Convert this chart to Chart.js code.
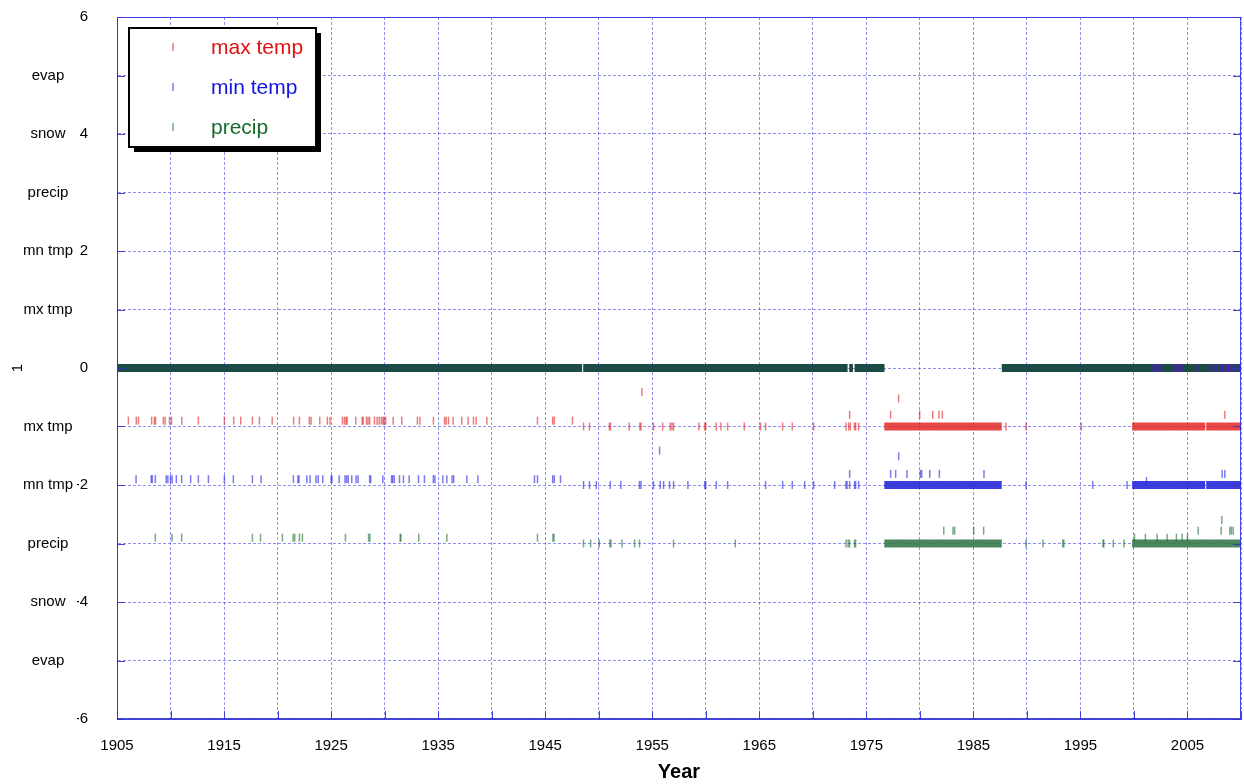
<!DOCTYPE html>
<html>
<head>
<meta charset="utf-8">
<script src="https://cdn.jsdelivr.net/npm/chart.js@4.4.0/dist/chart.umd.min.js"></script>
<style>
  html, body { margin: 0; padding: 0; background: #fff; }
  canvas { display: block; }
</style>
</head>
<body>
<canvas id="chart" width="1244" height="784"></canvas>
<script>
const FONT = '"Liberation Sans", Arial, Helvetica, sans-serif';
Chart.defaults.font.family = FONT;
Chart.defaults.color = '#000';

const xMin = 1905, xMax = 2010;
const rowValues = [6, 5, 4, 3, 2, 1, 0, -1, -2, -3, -4, -5, -6];
const rowNames = ['', 'evap', 'snow', 'precip', 'mn tmp', 'mx tmp', '', 'mx tmp', 'mn tmp', 'precip', 'snow', 'evap', ''];

// single marks: [year, level]
const maxTempMarks = [
  [1906.06,-0.9],[1906.8,-0.9],[1907.0,-0.9],[1908.24,-0.9],[1908.5,-0.9],[1908.6,-0.9],[1909.33,-0.9],
  [1909.5,-0.9],[1909.9,-0.9],[1910.1,-0.9],[1911.05,-0.9],[1912.6,-0.9],[1915.03,-0.9],[1915.9,-0.9],
  [1916.56,-0.9],[1917.65,-0.9],[1918.3,-0.9],[1919.5,-0.9],[1921.5,-0.9],[1922.04,-0.9],[1922.97,-0.9],
  [1923.13,-0.9],[1923.94,-0.9],[1924.65,-0.9],[1924.9,-0.9],[1926.06,-0.9],[1926.25,-0.9],[1926.4,-0.9],
  [1926.5,-0.9],[1927.3,-0.9],[1927.9,-0.9],[1928.0,-0.9],[1928.3,-0.9],[1928.45,-0.9],[1928.6,-0.9],
  [1929.05,-0.9],[1929.3,-0.9],[1929.5,-0.9],[1929.7,-0.9],[1929.85,-0.9],[1929.95,-0.9],[1930.1,-0.9],
  [1930.8,-0.9],[1931.6,-0.9],[1933.06,-0.9],[1933.3,-0.9],[1934.56,-0.9],[1935.6,-0.9],[1935.75,-0.9],
  [1935.97,-0.9],[1936.4,-0.9],[1937.2,-0.9],[1937.8,-0.9],[1938.3,-0.9],[1938.55,-0.9],[1939.55,-0.9],
  [1944.28,-0.9],[1945.7,-0.9],[1945.85,-0.9],[1947.55,-0.9],
  [1948.58,-1],[1949.14,-1],[1951.0,-1],[1951.1,-1],[1952.85,-1],[1953.85,-1],[1953.95,-1],[1955.12,-1],
  [1955.97,-1],[1956.68,-1],[1956.84,-1],[1956.99,-1],[1959.36,-1],[1959.9,-1],[1960.0,-1],[1960.98,-1],
  [1961.42,-1],[1962.04,-1],[1963.6,-1],[1965.12,-1],[1965.59,-1],[1967.18,-1],[1968.08,-1],[1970.08,-1],
  [1973.1,-1],[1973.35,-1],[1973.5,-1],[1973.9,-1],[1974.0,-1],[1974.28,-1],[1988.05,-1],[1989.92,-1],
  [1995.09,-1],
  [1954.03,-0.41],[1973.44,-0.8],[1977.27,-0.8],[1978.02,-0.52],[1979.98,-0.8],[1981.2,-0.8],
  [1981.79,-0.8],[1982.1,-0.8],[2008.49,-0.8]
];
const minTempMarks = [
  [1906.78,-1.9],[1908.2,-1.9],[1908.3,-1.9],[1908.58,-1.9],[1909.6,-1.9],[1909.75,-1.9],[1910.0,-1.9],
  [1910.15,-1.9],[1910.54,-1.9],[1911.04,-1.9],[1911.88,-1.9],[1912.6,-1.9],[1913.54,-1.9],[1915.03,-1.9],
  [1915.87,-1.9],[1917.65,-1.9],[1918.46,-1.9],[1921.48,-1.9],[1921.9,-1.9],[1922.0,-1.9],[1922.73,-1.9],
  [1923.04,-1.9],[1923.6,-1.9],[1923.8,-1.9],[1924.22,-1.9],[1925.0,-1.9],[1925.08,-1.9],[1925.75,-1.9],
  [1926.3,-1.9],[1926.45,-1.9],[1926.6,-1.9],[1926.93,-1.9],[1927.34,-1.9],[1927.52,-1.9],[1928.6,-1.9],
  [1928.7,-1.9],[1929.83,-1.9],[1930.65,-1.9],[1930.75,-1.9],[1930.9,-1.9],[1931.39,-1.9],[1931.76,-1.9],
  [1932.29,-1.9],[1933.16,-1.9],[1933.72,-1.9],[1934.55,-1.9],[1934.7,-1.9],[1935.44,-1.9],[1935.81,-1.9],
  [1936.3,-1.9],[1936.45,-1.9],[1937.68,-1.9],[1938.71,-1.9],[1944.0,-1.9],[1944.28,-1.9],[1945.7,-1.9],
  [1945.85,-1.9],[1946.43,-1.9],
  [1948.58,-2],[1949.14,-2],[1949.77,-2],[1951.07,-2],[1952.07,-2],[1953.8,-2],[1953.95,-2],[1955.12,-2],
  [1955.75,-2],[1956.06,-2],[1956.62,-2],[1956.99,-2],[1958.33,-2],[1959.9,-2],[1960.0,-2],[1960.98,-2],
  [1962.04,-2],[1965.59,-2],[1967.18,-2],[1968.08,-2],[1969.24,-2],[1970.08,-2],[1972.04,-2],[1973.1,-2],
  [1973.2,-2],[1973.44,-2],[1973.9,-2],[1974.0,-2],[1974.28,-2],[1989.92,-2],[1996.15,-2],[1999.36,-2],
  [1955.69,-1.41],[1978.02,-1.51],[2001.17,-1.93],
  [1973.44,-1.81],[1977.27,-1.81],[1977.74,-1.81],[1978.8,-1.81],[1980.05,-1.81],[1980.17,-1.81],
  [1980.92,-1.81],[1981.82,-1.81],[1985.99,-1.81],[2008.24,-1.81],[2008.49,-1.81]
];
const precipMarks = [
  [1908.58,-2.9],[1910.14,-2.9],[1911.04,-2.9],[1917.65,-2.9],[1918.4,-2.9],[1920.45,-2.9],[1921.45,-2.9],
  [1921.6,-2.9],[1922.04,-2.9],[1922.32,-2.9],[1926.34,-2.9],[1928.5,-2.9],[1928.62,-2.9],[1931.45,-2.9],
  [1931.52,-2.9],[1933.19,-2.9],[1935.81,-2.9],[1944.28,-2.9],[1945.72,-2.9],[1945.82,-2.9],
  [1948.58,-3],[1949.24,-3],[1950.05,-3],[1951.05,-3],[1951.15,-3],[1952.17,-3],[1953.35,-3],[1953.81,-3],
  [1956.99,-3],[1962.76,-3],[1973.1,-3],[1973.3,-3],[1973.44,-3],[1973.9,-3],[1974.0,-3],[1989.92,-3],
  [1991.5,-3],[1993.35,-3],[1993.45,-3],[1997.1,-3],[1997.18,-3],[1998.07,-3],[1999.07,-3],
  [1982.23,-2.78],[1983.1,-2.78],[1983.25,-2.78],[1985.03,-2.78],[1985.96,-2.78],[2006.0,-2.78],
  [2008.15,-2.78],[2008.96,-2.78],[2009.1,-2.78],[2009.27,-2.78],[2008.21,-2.6],
  [2000.05,-2.9],[2001.07,-2.9],[2002.17,-2.9],[2003.1,-2.9],[2003.97,-2.9],[2004.5,-2.9],[2005.0,-2.9]
];
// precip missing while both temps present (shows on the zero row)
const zeroRowNoPrecip = [2001.85, 2002.0, 2002.16, 2002.47, 2003.88, 2004.05, 2004.19, 2004.5, 2005.9,
  2007.15, 2007.62, 2008.08, 2008.3, 2008.6, 2008.87, 2009.1, 2009.3, 2009.8];

// continuous runs: [start, end]
const allPresentRuns = [[1905, 1948.45], [1948.55, 1973.25], [1973.4, 1973.75], [1973.9, 1976.7], [1987.65, 2010]];
const maxTempRuns = [[1976.68, 1987.65], [1999.83, 2006.65], [2006.75, 2010]];
const minTempRuns = [[1976.68, 1987.65], [1999.83, 2006.65], [2006.75, 2010]];
const precipRuns = [[1976.68, 1987.65], [1999.83, 2010]];

const toPoints = (pairs) => pairs.map(([x, y]) => ({ x, y }));
const toRuns = (runs, level) => runs.flatMap(([a, b]) => [{ x: a, y: level }, { x: b, y: level }, { x: b, y: null }]);

const markSet = (label, pairs, color, textColor) => ({
  label, legendText: textColor, data: toPoints(pairs),
  pointStyle: 'line', rotation: 90, pointRadius: 4, pointHoverRadius: 4,
  borderColor: color, backgroundColor: color, borderWidth: 1.5, showLine: false
});
const runSet = (runs, level, color) => ({
  data: toRuns(runs, level), showLine: true, spanGaps: false, pointRadius: 0,
  borderColor: color, borderWidth: 8, borderCapStyle: 'butt'
});

const frame = {
  id: 'frame',
  afterDatasetsDraw(chart) {
    const { ctx, chartArea: a, scales } = chart;
    ctx.save();
    ctx.strokeStyle = 'rgba(50,50,215,0.9)';
    ctx.lineWidth = 1;
    ctx.strokeRect(a.left + 0.5, a.top + 0.5, a.right - a.left - 1, a.bottom - a.top - 1);
    ctx.beginPath();
    rowValues.forEach(v => {
      const y = Math.round(scales.y.getPixelForValue(v)) + 0.5;
      ctx.moveTo(a.left, y); ctx.lineTo(a.left + 8, y);
      ctx.moveTo(a.right, y); ctx.lineTo(a.right - 8, y);
    });
    scales.x.ticks.forEach(t => {
      const x = Math.round(scales.x.getPixelForValue(t.value)) + 0.5;
      ctx.moveTo(x, a.bottom); ctx.lineTo(x, a.bottom - 8);
    });
    ctx.stroke();
    ctx.restore();
  }
};

const legendBox = {
  id: 'legendBox',
  afterDatasetsDraw(chart) {
    const { ctx, chartArea: a } = chart;
    const items = chart.data.datasets.filter(d => d.legendText);
    const x = a.left + 12, y = a.top + 11, w = 187, h = 119;
    ctx.save();
    ctx.fillStyle = '#000';
    ctx.fillRect(x + 5, y + 5, w, h);
    ctx.fillStyle = '#fff';
    ctx.fillRect(x, y, w, h);
    ctx.lineWidth = 2;
    ctx.strokeStyle = '#000';
    ctx.strokeRect(x, y, w, h);
    ctx.font = '21px ' + FONT;
    ctx.textBaseline = 'middle';
    items.forEach((d, i) => {
      const cy = y + 19 + i * 40;
      ctx.strokeStyle = d.borderColor;
      ctx.lineWidth = 1.5;
      ctx.beginPath();
      ctx.moveTo(x + 44, cy - 4);
      ctx.lineTo(x + 44, cy + 4);
      ctx.stroke();
      ctx.fillStyle = d.legendText;
      ctx.fillText(d.label, x + 82, cy + 1);
    });
    ctx.restore();
  }
};

const gridColor = 'rgba(70,70,230,0.6)';
const noEdgePadding = s => { s.paddingTop = 0; s.paddingBottom = 0; s.paddingLeft = 0; s.paddingRight = 0; };

new Chart(document.getElementById('chart'), {
  type: 'scatter',
  data: {
    datasets: [
      markSet('max temp', maxTempMarks, 'rgba(225,35,35,0.6)', '#e01010'),
      markSet('min temp', minTempMarks, 'rgba(35,35,225,0.6)', '#1515e0'),
      markSet('precip', precipMarks, 'rgba(30,110,50,0.6)', '#19692a'),
      {
        data: zeroRowNoPrecip.map(x => ({ x, y: 0 })),
        pointStyle: 'line', rotation: 90, pointRadius: 4, borderWidth: 2,
        borderColor: 'rgba(80,30,200,0.75)', showLine: false
      },
      runSet(allPresentRuns, 0, 'rgb(28,74,68)'),
      runSet(maxTempRuns, -1, 'rgba(228,45,45,0.88)'),
      runSet(minTempRuns, -2, 'rgba(40,40,215,0.9)'),
      runSet(precipRuns, -3, 'rgba(60,125,78,0.92)')
    ]
  },
  options: {
    responsive: false,
    animation: false,
    events: [],
    layout: { autoPadding: false, padding: { top: 17, right: 3, left: 0, bottom: 0 } },
    plugins: { legend: { display: false }, tooltip: { enabled: false } },
    scales: {
      x: {
        type: 'linear', min: xMin, max: xMax,
        grid: { color: gridColor, drawTicks: false, tickLength: 0 },
        border: { display: true, color: 'rgba(50,50,215,0.9)', dash: [3, 2] },
        ticks: {
          stepSize: 5, autoSkip: false, maxRotation: 0, padding: 18,
          font: { size: 15 },
          callback: v => ((v - xMin) % 10 === 0 ? String(v) : '')
        },
        title: { display: true, text: 'Year', font: { size: 20, weight: 'bold' }, padding: { top: 0, bottom: 0 } },
        afterFit: s => { s.height = 65; noEdgePadding(s); }
      },
      y: {
        type: 'linear', min: -6, max: 6, position: 'left', weight: 0,
        grid: { color: gridColor, drawTicks: false, tickLength: 0 },
        border: { display: true, color: 'rgba(50,50,215,0.9)', dash: [3, 2] },
        ticks: {
          stepSize: 1, autoSkip: false, padding: 29, font: { size: 15 },
          callback: v => (v % 2 === 0 ? String(v) : '')
        },
        afterFit: s => { s.width = 40; noEdgePadding(s); }
      },
      y2: {
        type: 'linear', min: -6, max: 6, position: 'left', weight: 1,
        grid: { display: false, drawTicks: false, tickLength: 0 },
        border: { display: false },
        ticks: {
          stepSize: 1, autoSkip: false, padding: 4, crossAlign: 'center', font: { size: 15 },
          callback: v => rowNames[rowValues.indexOf(v)] || ''
        },
        title: { display: true, text: '1', font: { size: 15 }, padding: { top: 9, bottom: 0 } },
        afterFit: s => { s.width = 77; noEdgePadding(s); }
      }
    }
  },
  plugins: [frame, legendBox]
});
</script>
</body>
</html>
